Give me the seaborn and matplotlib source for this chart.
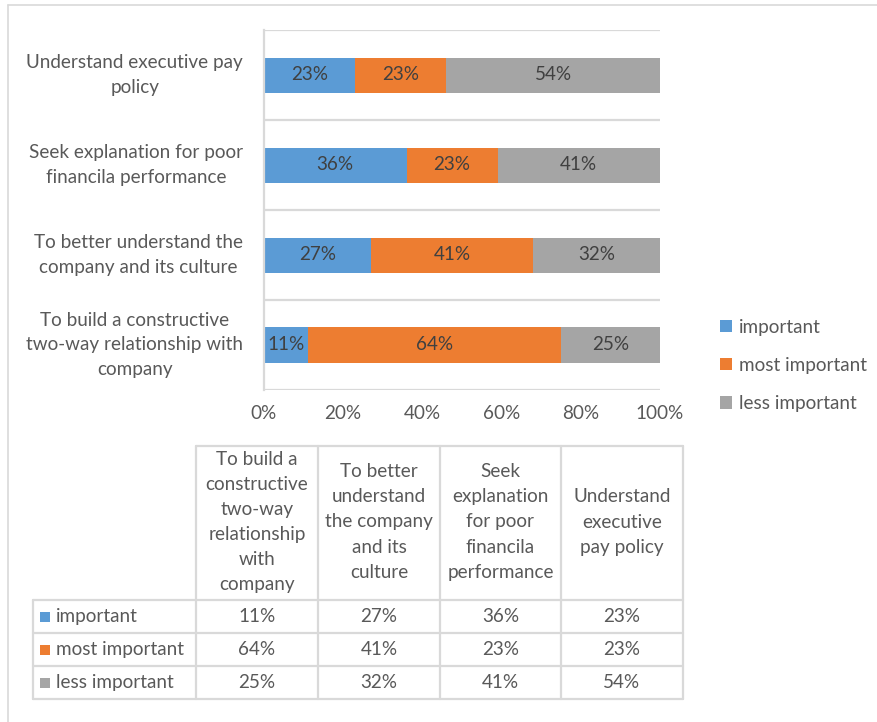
import matplotlib
matplotlib.use("Agg")
import matplotlib.pyplot as plt
import seaborn as sns
import pandas as pd
import numpy as np
from matplotlib.patches import Rectangle

# ---------------- data ----------------
categories = [
    "To build a constructive two-way relationship with company",
    "To better understand the company and its culture",
    "Seek explanation for poor financila performance",
    "Understand executive pay policy",
]
axis_labels = [
    "To build a constructive\ntwo-way relationship with\ncompany",
    "To better understand the\ncompany and its culture",
    "Seek explanation for poor\nfinancila performance",
    "Understand executive pay\npolicy",
]
table_headers = [
    "To build a\nconstructive\ntwo-way\nrelationship\nwith\ncompany",
    "To better\nunderstand\nthe company\nand its\nculture",
    "Seek\nexplanation\nfor poor\nfinancila\nperformance",
    "Understand\nexecutive\npay policy",
]
series = ["important", "most important", "less important"]
important = [11, 27, 36, 23]
most_important = [64, 41, 23, 23]
less_important = [25, 32, 41, 54]
xticks = [0, 20, 40, 60, 80, 100]
colors = ["#5B9BD5", "#ED7D31", "#A5A5A5"]

# ---------------- style ----------------
sns.set_theme(style="white")
plt.rcParams["font.family"] = ["Lato", "DejaVu Sans"]
TXT = "#595959"
FS = 13.6
GRID = "#D9D9D9"
LS = 1.55

W, H = 878, 722
fig = plt.figure(figsize=(W / 100, H / 100), dpi=100)

# overlay axes in pixel coordinates (frame + table)
ov = fig.add_axes([0, 0, 1, 1])
ov.set_xlim(0, W)
ov.set_ylim(H, 0)
ov.axis("off")

ax = fig.add_axes([264 / W, 1 - 390 / H, 396 / W, 360 / H])

values = [important, most_important, less_important]
df = pd.DataFrame({
    "label": axis_labels,
    "important": important,
    "most important": most_important,
    "less important": less_important,
})
df["c1"] = df["important"]
df["c2"] = df["important"] + df["most important"]
df["c3"] = df["c2"] + df["less important"]
plot_order = axis_labels[::-1]

for col, c in zip(["c3", "c2", "c1"], colors[::-1]):
    sns.barplot(data=df, x=col, y="label", order=plot_order, color=c,
                saturation=1, width=35 / 90, linewidth=0, ax=ax, zorder=2)

ax.set_xlim(0, 100)
ax.set_ylim(3.5, -0.5)
ax.hlines(np.arange(-0.5, 4.0, 1.0), 0, 100, color=GRID, lw=1.6, zorder=1)
for s in ["top", "right", "bottom"]:
    ax.spines[s].set_visible(False)
ax.spines["left"].set_color(GRID)
ax.spines["left"].set_linewidth(1.6)
ax.set_xticks(xticks)
ax.set_xticklabels([f"{v}%" for v in xticks])
ax.set_xlabel("")
ax.set_ylabel("")
ax.tick_params(axis="x", length=0, pad=11, labelsize=FS, labelcolor=TXT)
ax.tick_params(axis="y", length=0, pad=15, labelsize=FS, labelcolor=TXT)
ax.set_yticks(range(len(plot_order)))
ax.set_yticklabels(plot_order, linespacing=LS, multialignment="center", va="center")

# segment labels
for yi, lab in enumerate(plot_order):
    i = axis_labels.index(lab)
    left = 0
    for vals in values:
        v = vals[i]
        ax.text(left + v / 2, yi, f"{v}%", ha="center", va="center",
                fontsize=FS, color="#404040", zorder=3)
        left += v

# legend
handles = [Rectangle((0, 0), 1, 1, fc=c, ec="none") for c in colors]
fig.legend(handles, series, loc="upper left",
           bbox_to_anchor=(712 / W, 1 - 311 / H), frameon=False,
           fontsize=FS, labelcolor=TXT, handlelength=0.65, handleheight=0.65,
           handletextpad=0.4, labelspacing=1.12, borderaxespad=0)

# outer frame
ov.plot([8, W], [5, 5], color=GRID, lw=1.2)
ov.plot([8, 8], [5, H], color=GRID, lw=1.2)

# data table
cols_x = [196, 318, 440, 561, 683]
rows_y = [600, 633, 666, 699]
lab_left = 33
ov.plot([cols_x[0], cols_x[-1]], [446, 446], color=GRID, lw=1.6)
for y in rows_y:
    ov.plot([lab_left, cols_x[-1]], [y, y], color=GRID, lw=1.6)
for x in cols_x:
    ov.plot([x, x], [446, rows_y[-1]], color=GRID, lw=1.6)
ov.plot([lab_left, lab_left], [rows_y[0], rows_y[-1]], color=GRID, lw=1.6)

for j, htxt in enumerate(table_headers):
    cx = (cols_x[j] + cols_x[j + 1]) / 2
    ov.text(cx, 522, htxt, ha="center", va="center", fontsize=FS,
            color=TXT, linespacing=1.58, multialignment="center")

for r, (name, vals, c) in enumerate(zip(series, values, colors)):
    cy = (rows_y[r] + rows_y[r + 1]) / 2
    ov.add_patch(Rectangle((40, cy - 5), 10, 10, fc=c, ec="none"))
    ov.text(56, cy, name, ha="left", va="center", fontsize=FS, color=TXT)
    for j, v in enumerate(vals):
        cx = (cols_x[j] + cols_x[j + 1]) / 2
        ov.text(cx, cy, f"{v}%", ha="center", va="center", fontsize=FS, color=TXT)

fig.savefig("out.png", dpi=100)
